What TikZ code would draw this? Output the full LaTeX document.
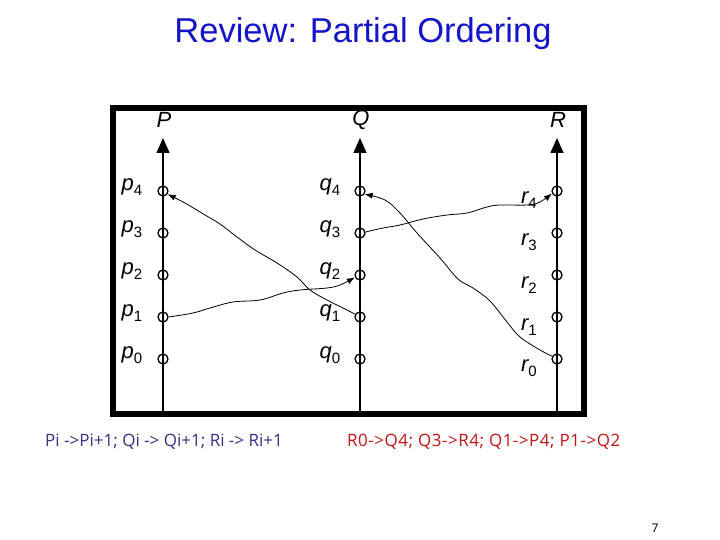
\documentclass[tikz,border=0pt]{standalone}
\usepackage{fontspec}
\setmainfont{Liberation Sans}
\newfontfamily\notefont{Open Sans}
\usetikzlibrary{arrows.meta}
\definecolor{titleblue}{RGB}{20,20,200}
\definecolor{noteblue}{RGB}{50,50,130}
\definecolor{notered}{RGB}{190,20,20}
\newcommand{\ev}[2]{{\itshape #1}\raisebox{-5pt}{\fontsize{15}{15}\selectfont #2}}
\begin{document}
\begin{tikzpicture}[x=1pt,y=-1pt,
  timeline/.style={line width=1.6pt,-{Triangle[length=15pt,width=13pt]}},
  event/.style={circle,draw,line width=1.3pt,minimum size=10pt,inner sep=0pt},
  evlabel/.style={font=\fontsize{22}{22}\selectfont,inner sep=0pt},
  proclabel/.style={font=\fontsize{22}{22}\selectfont\itshape,inner sep=0pt},
  msg/.style={line width=0.8pt,-{Latex[length=8pt,width=6pt]}},
  note/.style={font=\notefont\fontsize{17}{17}\selectfont,inner sep=0pt,anchor=west}]
\useasboundingbox (0,0) rectangle (720,540);
% title
\node[font=\fontsize{34.5}{34.5}\selectfont,text=titleblue] (title) at (363,34) {Review: Partial Ordering};
% frame
\draw[line width=6pt] (113,108) rectangle (584,414);
% timelines
\coordinate (Pb) at (163,414); \coordinate (Pt) at (163,138);
\coordinate (Qb) at (360,414); \coordinate (Qt) at (360,138);
\coordinate (Rb) at (557,414); \coordinate (Rt) at (557,138);
\draw[timeline] (Pb) -- (Pt);
\draw[timeline] (Qb) -- (Qt);
\draw[timeline] (Rb) -- (Rt);
\node[proclabel] (Pl) at (164,120) {P};
\node[proclabel] (Ql) at (361,120) {Q};
\node[proclabel] (Rl) at (558,120) {R};
% events
\foreach \i/\y in {4/191,3/233,2/275,1/317,0/359}{
  \node[event] (p\i) at (163,\y) {};
  \node[event] (q\i) at (360,\y) {};
  \node[event] (r\i) at (557,\y) {};
}
% labels
\foreach \i/\y in {4/187,3/229,2/271,1/313,0/355}{
  \node[evlabel] (pl\i) at (132,\y) {\ev{p}{\i}};
  \node[evlabel] (ql\i) at (330,\y) {\ev{q}{\i}};
}
\foreach \i/\y in {4/200,3/242,2/285,1/327,0/368}{
  \node[evlabel] (rl\i) at (529,\y) {\ev{r}{\i}};
}
% messages
\draw[msg] plot[smooth,tension=0.6] coordinates {(r0.150) (540,350) (520,337) (507,322) (490,301) (473,288) (458,279) (440,258) (417,233) (400,213) (385,200) (q4.-35)};
\draw[msg] plot[smooth,tension=0.6] coordinates {(q3.10) (383,228) (400,225) (423,219) (447,215) (467,213) (487,207) (500,205) (527,205) (540,202) (r4.-155)};
\draw[msg] plot[smooth,tension=0.6] coordinates {(q1.150) (343,308) (327,300) (310,290) (297,277) (277,263) (255,250) (237,237) (220,224) (205,215) (185,203) (p4.-35)};
\draw[msg] plot[smooth,tension=0.6] coordinates {(p1.0) (193,313) (210,308) (233,302) (260,300) (283,293) (300,290) (327,288) (340,285) (q2.-155)};
% notes
\node[note,text=noteblue] (n1) at (45,442) {Pi ->Pi+1; Qi -> Qi+1; Ri -> Ri+1};
\node[note,text=notered] (n2) at (347,442) {\addfontfeature{LetterSpace=3}R0->Q4; Q3->R4; Q1->P4; P1->Q2};
\node[font=\notefont\fontsize{12}{12}\selectfont] (pg) at (655,528) {7};
\end{tikzpicture}
\end{document}
